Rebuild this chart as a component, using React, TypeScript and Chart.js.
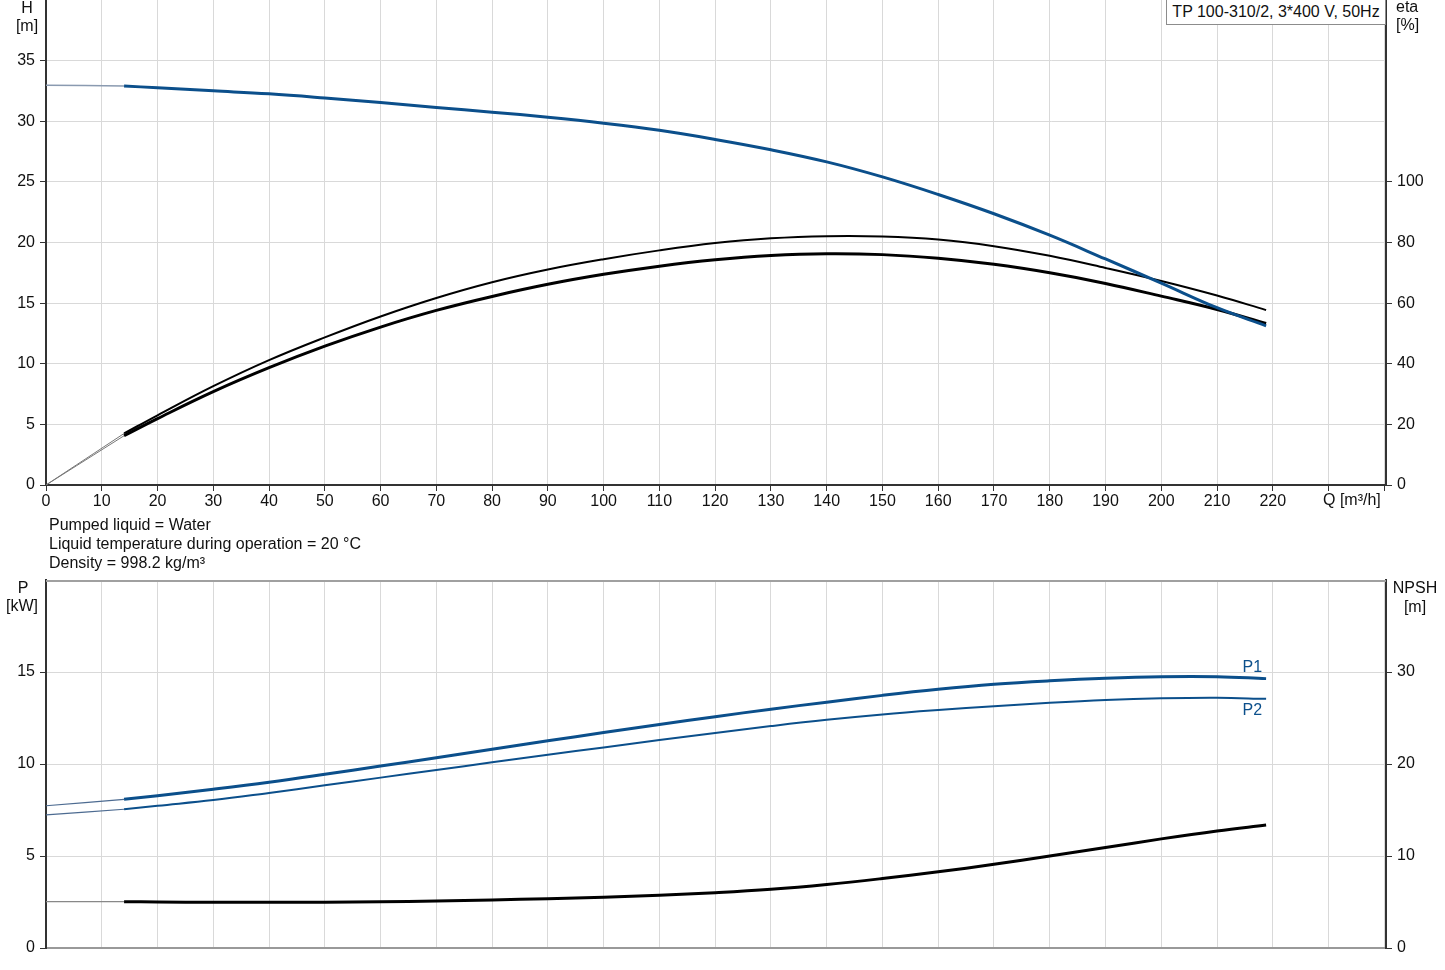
import React, { useEffect, useRef } from 'react';
import { Chart, registerables } from 'chart.js';

Chart.register(...registerables);

const FONT_FAMILY = '"Liberation Sans", Arial, sans-serif';
const BLUE = '#0b4f8b';
const TEXT = '#111';
const GRID = '#d9d9d9';
const AXIS = '#333';

// ---------- data (Q in m³/h) ----------
const qExt = [0, 14];
const qMain = [14, 20, 30, 40, 50, 60, 70, 80, 90, 100, 110, 120, 130, 140, 150, 160, 170, 180, 190, 200, 210, 218.8];

// head H [m]
const hExt = [32.97, 32.91];
const hMain = [32.91, 32.76, 32.51, 32.26, 31.92, 31.54, 31.14, 30.75, 30.33, 29.84, 29.25, 28.5, 27.65, 26.65, 25.41, 23.96, 22.37, 20.6, 18.64, 16.65, 14.62, 13.13];

// efficiency eta [%]
const etaUpperExt = [0, 17.0];
const etaUpper = [17.0, 23.0, 32.6, 41.2, 48.7, 55.6, 61.7, 66.9, 71.1, 74.5, 77.4, 79.8, 81.4, 82.1, 82.0, 81.0, 78.8, 75.6, 71.6, 67.3, 62.5, 57.7];
const etaLowerExt = [0, 16.25];
const etaLower = [16.25, 21.9, 30.8, 38.7, 45.8, 52.1, 57.6, 62.2, 66.2, 69.5, 72.2, 74.3, 75.7, 76.3, 76.0, 74.8, 72.8, 70.0, 66.5, 62.3, 57.9, 53.3];

// power P [kW]
const p1Ext = [7.73, 8.08];
const p1 = [8.08, 8.28, 8.63, 9.01, 9.44, 9.89, 10.34, 10.8, 11.26, 11.71, 12.15, 12.57, 12.98, 13.36, 13.73, 14.06, 14.33, 14.52, 14.66, 14.74, 14.74, 14.64];
const p2Ext = [7.23, 7.54];
const p2 = [7.54, 7.73, 8.04, 8.43, 8.84, 9.26, 9.67, 10.09, 10.5, 10.9, 11.3, 11.69, 12.06, 12.4, 12.69, 12.93, 13.14, 13.33, 13.48, 13.57, 13.6, 13.54];

// NPSH [m]
const npshExt = [5.03, 5.03];
const npsh = [5.03, 5.0, 4.97, 4.96, 4.97, 5.02, 5.11, 5.23, 5.36, 5.52, 5.73, 6.01, 6.38, 6.9, 7.55, 8.28, 9.1, 10.0, 10.92, 11.86, 12.72, 13.37];

// ticks
const qTicks = [0, 10, 20, 30, 40, 50, 60, 70, 80, 90, 100, 110, 120, 130, 140, 150, 160, 170, 180, 190, 200, 210, 220, 230, 240];
const qLabelMax = 220;
const hTicks = [0, 5, 10, 15, 20, 25, 30, 35];
const etaTicks = [0, 20, 40, 60, 80, 100];
const pTicks = [0, 5, 10, 15];
const npshTicks = [0, 10, 20, 30];

const title = 'TP 100-310/2, 3*400 V, 50Hz';
const notes = ['Pumped liquid = Water', 'Liquid temperature during operation = 20 °C', 'Density = 998.2 kg/m³'];

const pts = (xs: number[], ys: number[]) => xs.map((x, i) => ({ x, y: ys[i] }));

const tickFont = { family: FONT_FAMILY, size: 16 };

const setTicks = (list: number[]) => (scale: any) => {
  scale.ticks = list.map((v) => ({ value: v }));
};

const fixSize = (w: number | null, h: number | null) => (s: any) => {
  if (w !== null) s.width = w;
  if (h !== null) s.height = h;
  s.paddingTop = 0;
  s.paddingBottom = 0;
  s.paddingLeft = 0;
  s.paddingRight = 0;
};

const line = (data: any[], color: string, width: number, yAxisID: string) => ({
  data,
  borderColor: color,
  backgroundColor: color,
  borderWidth: width,
  pointRadius: 0,
  fill: false,
  tension: 0.4,
  yAxisID,
});

const topBorderPlugin = {
  id: 'topBorder',
  afterDraw(chart: any) {
    const { ctx, chartArea } = chart;
    ctx.save();
    ctx.strokeStyle = '#a0a0a0';
    ctx.lineWidth = 2;
    ctx.beginPath();
    ctx.moveTo(chartArea.left, chartArea.top + 1);
    ctx.lineTo(chartArea.right, chartArea.top + 1);
    ctx.stroke();
    ctx.restore();
  },
};

const powerLabelPlugin = {
  id: 'powerLabels',
  afterDatasetsDraw(chart: any) {
    const { ctx } = chart;
    const m1 = chart.getDatasetMeta(0).data;
    const m2 = chart.getDatasetMeta(1).data;
    const e1 = m1[m1.length - 1];
    const e2 = m2[m2.length - 1];
    ctx.save();
    ctx.fillStyle = BLUE;
    ctx.font = `16px ${FONT_FAMILY}`;
    ctx.textAlign = 'right';
    ctx.textBaseline = 'middle';
    ctx.fillText('P1', e1.x - 4, e1.y - 11);
    ctx.fillText('P2', e2.x - 4, e2.y + 12);
    ctx.restore();
  },
};

function HeadChart() {
  const ref = useRef<HTMLCanvasElement>(null);
  useEffect(() => {
    const chart = new Chart(ref.current!, {
      type: 'line',
      data: {
        datasets: [
          line(pts(qMain, hMain), BLUE, 3, 'y'),
          line(pts(qMain, etaLower), '#000', 3, 'y2'),
          line(pts(qMain, etaUpper), '#000', 2, 'y2'),
          line(pts(qExt, hExt), '#8a9ab0', 1.5, 'y'),
          line(pts(qExt, etaLowerExt), '#777', 1, 'y2'),
          line(pts(qExt, etaUpperExt), '#777', 1, 'y2'),
        ] as any,
      },
      options: {
        animation: false,
        responsive: false,
        devicePixelRatio: 1,
        layout: { padding: 0 },
        plugins: { legend: { display: false }, tooltip: { enabled: false } },
        scales: {
          x: {
            type: 'linear',
            min: 0,
            max: 240.3,
            afterBuildTicks: setTicks(qTicks),
            afterFit: fixSize(null, 35),
            ticks: {
              autoSkip: false,
              maxRotation: 0,
              padding: 1,
              color: TEXT,
              font: tickFont,
              callback: (v: any) => (Number(v) <= qLabelMax ? String(v) : ''),
            },
            grid: { color: GRID, lineWidth: 1, tickColor: AXIS, tickLength: 6 },
            border: { color: AXIS, width: 2 },
          },
          y: {
            type: 'linear',
            position: 'left',
            min: 0,
            max: 40,
            afterBuildTicks: setTicks(hTicks),
            afterFit: fixSize(46, null),
            ticks: { padding: 5, color: TEXT, font: tickFont },
            grid: { color: GRID, lineWidth: 1, tickColor: AXIS, tickLength: 6 },
            border: { color: AXIS, width: 2 },
          },
          y2: {
            type: 'linear',
            position: 'right',
            min: 0,
            max: 160,
            afterBuildTicks: setTicks(etaTicks),
            afterFit: fixSize(59, null),
            ticks: { padding: 5, color: TEXT, font: tickFont },
            grid: { drawOnChartArea: false, tickColor: AXIS, tickLength: 6 },
            border: { color: AXIS, width: 2 },
          },
        },
      } as any,
    });
    return () => chart.destroy();
  }, []);
  return (
    <canvas
      ref={ref}
      width={1445}
      height={520}
      style={{ position: 'absolute', left: 0, top: 0, width: 1445, height: 520 }}
    />
  );
}

function PowerChart() {
  const ref = useRef<HTMLCanvasElement>(null);
  useEffect(() => {
    const chart = new Chart(ref.current!, {
      type: 'line',
      data: {
        datasets: [
          line(pts(qMain, p1), BLUE, 3, 'y'),
          line(pts(qMain, p2), BLUE, 2, 'y'),
          line(pts(qMain, npsh), '#000', 3, 'y2'),
          line(pts(qExt, p1Ext), '#4d6b91', 1.2, 'y'),
          line(pts(qExt, p2Ext), '#4d6b91', 1.2, 'y'),
          line(pts(qExt, npshExt), '#888', 1.2, 'y2'),
        ] as any,
      },
      options: {
        animation: false,
        responsive: false,
        devicePixelRatio: 1,
        layout: { padding: { top: 20, left: 0, right: 0, bottom: 0 } },
        plugins: { legend: { display: false }, tooltip: { enabled: false } },
        scales: {
          x: {
            type: 'linear',
            min: 0,
            max: 240.3,
            afterBuildTicks: setTicks(qTicks),
            afterFit: fixSize(null, 22),
            ticks: { display: false },
            grid: { color: GRID, lineWidth: 1, drawTicks: false },
            border: { color: '#999', width: 2 },
          },
          y: {
            type: 'linear',
            position: 'left',
            min: 0,
            max: 20,
            afterBuildTicks: setTicks(pTicks),
            afterFit: fixSize(46, null),
            ticks: { padding: 5, color: TEXT, font: tickFont },
            grid: { color: GRID, lineWidth: 1, tickColor: AXIS, tickLength: 6 },
            border: { color: AXIS, width: 2 },
          },
          y2: {
            type: 'linear',
            position: 'right',
            min: 0,
            max: 40,
            afterBuildTicks: setTicks(npshTicks),
            afterFit: fixSize(59, null),
            ticks: { padding: 5, color: TEXT, font: tickFont },
            grid: { drawOnChartArea: false, tickColor: AXIS, tickLength: 6 },
            border: { color: AXIS, width: 2 },
          },
        },
      } as any,
      plugins: [topBorderPlugin, powerLabelPlugin],
    });
    return () => chart.destroy();
  }, []);
  return (
    <canvas
      ref={ref}
      width={1445}
      height={410}
      style={{ position: 'absolute', left: 0, top: 560, width: 1445, height: 410 }}
    />
  );
}

const txt = (s: string, left: number, baseline: number, extra: React.CSSProperties = {}) => (
  <div
    key={s + left + baseline}
    style={{
      position: 'absolute',
      left,
      top: baseline - 15,
      fontFamily: FONT_FAMILY,
      fontSize: 16,
      lineHeight: '19px',
      color: TEXT,
      whiteSpace: 'nowrap',
      ...extra,
    }}
  >
    {s}
  </div>
);

const centered = (s: string, cx: number, baseline: number) =>
  txt(s, cx - 40, baseline, { width: 80, textAlign: 'center' });

export default function App() {
  return (
    <div
      style={{
        position: 'fixed',
        left: 0,
        top: 0,
        width: 1445,
        height: 970,
        background: '#fff',
        overflow: 'hidden',
      }}
    >
      <HeadChart />
      <PowerChart />
      {centered('H', 27, 13)}
      {centered('[m]', 27, 31)}
      {txt('eta', 1396, 12)}
      {txt('[%]', 1396, 30)}
      {txt('Q [m³/h]', 1323, 505)}
      {notes.map((n, i) => txt(n, 49, 529.5 + i * 19.3))}
      {centered('P', 23, 593)}
      {centered('[kW]', 22, 611)}
      {centered('NPSH', 1415, 593)}
      {centered('[m]', 1415, 612)}
      <div
        style={{
          position: 'absolute',
          left: 1166,
          top: -1,
          width: 220,
          height: 26,
          boxSizing: 'border-box',
          border: '1px solid #8c8c8c',
          background: '#fff',
          fontFamily: FONT_FAMILY,
          fontSize: 16,
          lineHeight: '24px',
          color: TEXT,
          textAlign: 'center',
          whiteSpace: 'nowrap',
        }}
      >
        {title}
      </div>
    </div>
  );
}
